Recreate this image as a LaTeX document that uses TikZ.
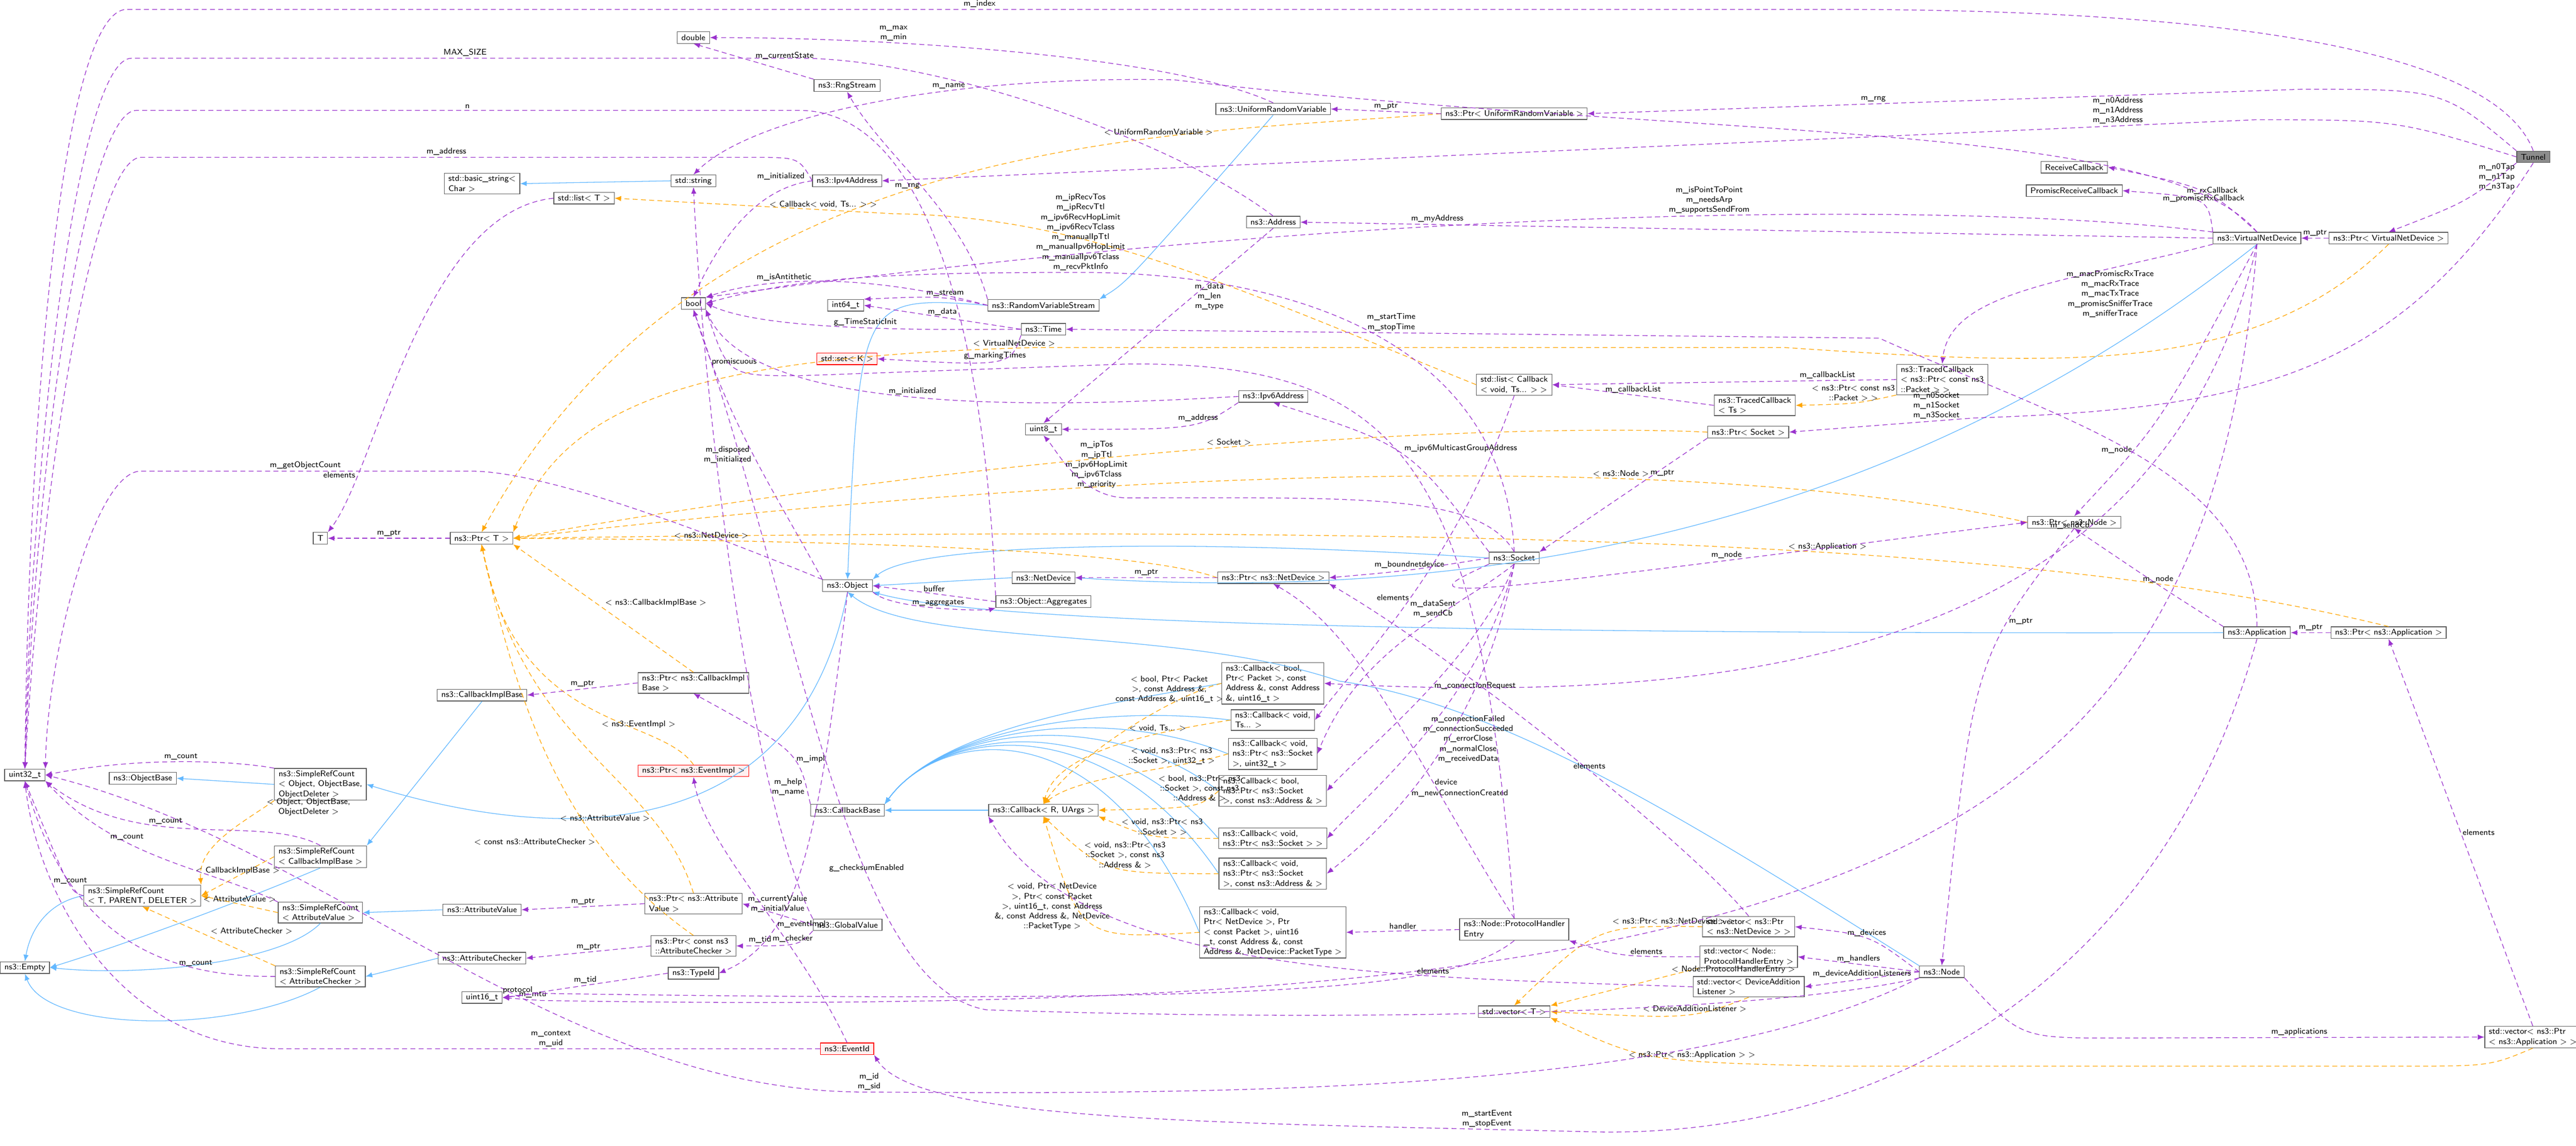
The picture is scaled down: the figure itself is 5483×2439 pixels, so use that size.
\documentclass[tikz,border=0pt]{standalone}
\usepackage{tikz}
\usetikzlibrary{arrows.meta}
\definecolor{usec}{HTML}{9A32CD}
\definecolor{tplc}{HTML}{FFA500}
\definecolor{inhc}{HTML}{63B8FF}
\tikzset{
    box/.style={draw=black!65, fill=white, font=\fontsize{5}{6}\selectfont\sffamily, align=left, inner xsep=2.5pt, inner ysep=1.3pt, minimum height=7pt},
    redbox/.style={box, draw=red, fill=red!6},
    grey/.style={box, fill=black!45},
    lbl/.style={font=\fontsize{5}{6}\selectfont\sffamily, align=center, inner sep=1pt},
    use/.style={draw=usec, dash pattern=on 3pt off 2pt, -{Latex[length=4pt,width=3.2pt]}},
    tpl/.style={draw=tplc, dash pattern=on 3pt off 2pt, -{Latex[length=4pt,width=3.2pt]}},
    inh/.style={draw=inhc, -{Latex[length=4pt,width=3.2pt]}},
}
\begin{document}
\begin{tikzpicture}[x=0.01cm,y=-0.01cm]
    \useasboundingbox (0,0) rectangle (5483,2439);

    % right side
    \node[grey] (tunnel) at (5392,334) {Tunnel};
    \node[box] (vnd) at (4804,507) {ns3::VirtualNetDevice};
    \node[box] (pvnd) at (5084,507) {ns3::Ptr< VirtualNetDevice >};
    \node[box] (recvcb) at (4415,356) {ReceiveCallback};
    \node[box] (promcb) at (4415,406) {PromiscReceiveCallback};
    \node[box] (tcbpkt) at (4134,808) {ns3::TracedCallback\\< ns3::Ptr< const ns3\\::Packet > >};
    \node[box] (pnode) at (4415,1112) {ns3::Ptr< ns3::Node >};
    \node[box] (app) at (4804,1347) {ns3::Application};
    \node[box] (papp) at (5084,1347) {ns3::Ptr< ns3::Application >};
    \node[box] (node) at (4133,2069) {ns3::Node};
    \node[box] (vecapp) at (5391,2208) {std::vector< ns3::Ptr\\< ns3::Application > >};

    % middle column
    \node[box] (urv) at (2710,232) {ns3::UniformRandomVariable};
    \node[box] (purv) at (3223,242) {ns3::Ptr< UniformRandomVariable >};
    \node[box] (addr) at (2710,473) {ns3::Address};
    \node[box] (rvs) at (2221,650) {ns3::RandomVariableStream};
    \node[box] (time) at (2221,701) {ns3::Time};
    \node[box] (ipv6) at (2710,844) {ns3::Ipv6Address};
    \node[box] (u8) at (2221,914) {uint8\_t};
    \node[box] (lstcb) at (3223,819) {std::list< Callback\\< void, Ts... > >};
    \node[box] (tcbts) at (3735,863) {ns3::TracedCallback\\< Ts >};
    \node[box] (psock) at (3721,920) {ns3::Ptr< Socket >};
    \node[box] (sock) at (3223,1188) {ns3::Socket};
    \node[box] (netdev) at (2221,1230) {ns3::NetDevice};
    \node[box] (pnetdev) at (2710,1230) {ns3::Ptr< ns3::NetDevice >};
    \node[box] (aggr) at (2221,1281) {ns3::Object::Aggregates};
    \node[box] (cbr) at (2221,1725) {ns3::Callback< R, UArgs >};
    \node[box] (cba) at (2709,1455) {ns3::Callback< bool,\\Ptr< Packet >, const\\Address \&, const Address\\\&, uint16\_t >};
    \node[box] (cbb) at (2709,1533) {ns3::Callback< void,\\Ts... >};
    \node[box] (cbc) at (2709,1605) {ns3::Callback< void,\\ns3::Ptr< ns3::Socket\\>, uint32\_t >};
    \node[box] (cbd) at (2709,1684) {ns3::Callback< bool,\\ns3::Ptr< ns3::Socket\\>, const ns3::Address \& >};
    \node[box] (cbe) at (2709,1785) {ns3::Callback< void,\\ns3::Ptr< ns3::Socket > >};
    \node[box] (cbf) at (2709,1860) {ns3::Callback< void,\\ns3::Ptr< ns3::Socket\\>, const ns3::Address \& >};
    \node[box] (cbg) at (2709,1985) {ns3::Callback< void,\\Ptr< NetDevice >, Ptr\\< const Packet >, uint16\\\_t, const Address \&, const\\Address \&, NetDevice::PacketType >};
    \node[box] (phe) at (3223,1979) {ns3::Node::ProtocolHandler\\Entry};
    \node[box] (vect) at (3223,2154) {std::vector< T >};
    \node[box] (vecnd) at (3722,1973) {std::vector< ns3::Ptr\\< ns3::NetDevice > >};
    \node[box] (vecphe) at (3722,2037) {std::vector< Node::\\ProtocolHandlerEntry >};
    \node[box] (vecdal) at (3722,2101) {std::vector< DeviceAddition\\Listener >};

    % left part
    \node[box] (dbl) at (1476,80) {double};
    \node[box] (rng) at (1803,182) {ns3::RngStream};
    \node[box] (bstr) at (1026,391) {std::basic\_string<\\Char >};
    \node[box] (str) at (1476,385) {std::string};
    \node[box] (ipv4) at (1803,385) {ns3::Ipv4Address};
    \node[box] (lst) at (1243,422) {std::list< T >};
    \node[box] (boolt) at (1476,646) {bool};
    \node[box] (i64) at (1800,650) {int64\_t};
    \node[redbox] (setk) at (1803,764) {std::set< K >};
    \node[box] (tt) at (682,1146) {T};
    \node[box] (ptrt) at (1025,1146) {ns3::Ptr< T >};
    \node[box] (obj) at (1804,1247) {ns3::Object};
    \node[box] (cbimpl) at (1026,1480) {ns3::CallbackImplBase};
    \node[box] (pcbimpl) at (1476,1454) {ns3::Ptr< ns3::CallbackImpl\\Base >};
    \node[redbox] (pevimpl) at (1476,1641) {ns3::Ptr< ns3::EventImpl >};
    \node[box] (u32) at (53,1650) {uint32\_t};
    \node[box] (objbase) at (304,1657) {ns3::ObjectBase};
    \node[box] (srcobj) at (682,1670) {ns3::SimpleRefCount\\< Object, ObjectBase,\\ObjectDeleter >};
    \node[box] (cbbase) at (1804,1725) {ns3::CallbackBase};
    \node[box] (srccb) at (682,1824) {ns3::SimpleRefCount\\< CallbackImplBase >};
    \node[box] (srctpd) at (303,1907) {ns3::SimpleRefCount\\< T, PARENT, DELETER >};
    \node[box] (pattrval) at (1476,1924) {ns3::Ptr< ns3::Attribute\\Value >};
    \node[box] (attrval) at (1026,1937) {ns3::AttributeValue};
    \node[box] (srcav) at (682,1943) {ns3::SimpleRefCount\\< AttributeValue >};
    \node[box] (gval) at (1804,1969) {ns3::GlobalValue};
    \node[box] (pattrchk) at (1476,2014) {ns3::Ptr< const ns3\\::AttributeChecker >};
    \node[box] (attrchk) at (1026,2040) {ns3::AttributeChecker};
    \node[box] (empty) at (53,2060) {ns3::Empty};
    \node[box] (typeid) at (1476,2072) {ns3::TypeId};
    \node[box] (srcac) at (682,2079) {ns3::SimpleRefCount\\< AttributeChecker >};
    \node[box] (u16) at (1026,2124) {uint16\_t};
    \node[redbox] (evid) at (1803,2233) {ns3::EventId};

    % inheritance
    \draw[inh] (srcobj.west) -- (objbase.east);
    \draw[inh] (obj.south) .. controls (1700,1800) and (1200,1800) .. (srcobj.east);
    \draw[inh] (srctpd.west) to[out=190,in=80] (empty.north);
    \draw[inh] (srccb.south) .. controls (560,1900) and (300,2000) .. (empty.east);
    \draw[inh] (srcav.south) .. controls (600,2050) and (300,2080) .. (empty.east);
    \draw[inh] (srcac.south) .. controls (500,2200) and (100,2200) .. (empty.south);
    \draw[inh] (cbimpl.south) -- (srccb.north east);
    \draw[inh] (attrval.west) -- (srcav.east);
    \draw[inh] (attrchk.west) -- (srcac.east);
    \draw[inh] (str.west) -- (bstr.east);
    \draw[inh] (urv.south) .. controls (2400,600) .. (rvs.north east);
    \draw[inh] (rvs.west) .. controls (1830,630) .. (obj.north);
    \draw[inh] (netdev.west) -- (obj.east);
    \draw[inh] (sock.west) .. controls (2600,1150) and (1950,1150) .. (obj.north east);
    \draw[inh] (vnd.south) .. controls (4200,1000) and (3400,1300) .. (netdev.east);
    \draw[inh] (app.west) .. controls (3200,1350) and (2100,1330) .. (obj.south east);
    \draw[inh] (node.north west) .. controls (3600,1750) and (3200,1500) .. (2850,1450)
        .. controls (2500,1330) and (1950,1380) .. (obj.south);
    \foreach \c in {cba,cbb,cbc,cbd,cbe,cbf,cbg}
        \draw[inh] (\c.west) .. controls (2350,1500) and (2000,1550) .. (cbbase.north east);
    \draw[inh] (cbr.west) -- (cbbase.east);

    % template instances
    \draw[tpl] (purv.west) .. controls (2500,290) and (1500,270) .. (ptrt.north) node[lbl,pos=0.3,above]{< UniformRandomVariable >};
    \draw[tpl] (pcbimpl.north) -- (ptrt.south east) node[lbl,midway,above right]{< ns3::CallbackImplBase >};
    \draw[tpl] (pevimpl.north) .. controls (1400,1520) and (1100,1560) .. (ptrt.south) node[lbl,pos=0.3,above]{< ns3::EventImpl >};
    \draw[tpl] (pattrval.north) .. controls (1400,1650) and (1120,1600) .. (ptrt.south) node[lbl,pos=0.25,left]{< ns3::AttributeValue >};
    \draw[tpl] (pattrchk.north) .. controls (1200,1800) and (1100,1500) .. (ptrt.south) node[lbl,pos=0.3,left]{< const ns3::AttributeChecker >};
    \draw[tpl] (pvnd.south) .. controls (4800,800) and (4400,780) .. (3800,740) -- (2200,740) .. controls (1500,760) and (1200,850) .. (ptrt.north east) node[lbl,pos=0.02,above]{< VirtualNetDevice >};
    \draw[tpl] (psock.west) .. controls (3200,900) and (2200,950) .. (ptrt.east) node[lbl,pos=0.5,above]{< Socket >};
    \draw[tpl] (pnode.west) .. controls (3800,1000) and (2800,950) .. (ptrt.east) node[lbl,pos=0.4,above]{< ns3::Node >};
    \draw[tpl] (papp.north) .. controls (4300,1140) and (3000,1120) .. (ptrt.east) node[lbl,pos=0.4,above]{< ns3::Application >};
    \draw[tpl] (pnetdev.west) .. controls (2400,1160) and (1600,1150) .. (ptrt.east) node[lbl,pos=0.75,above]{< ns3::NetDevice >};
    \draw[tpl] (srcobj.south west) .. controls (520,1750) and (420,1800) .. (srctpd.north east) node[lbl,pos=0.1,right]{< Object, ObjectBase,\\ObjectDeleter >};
    \draw[tpl] (srccb.west) -- (srctpd.east) node[lbl,midway,above]{< CallbackImplBase >};
    \draw[tpl] (srcav.west) -- (srctpd.east) node[lbl,midway,above]{< AttributeValue >};
    \draw[tpl] (srcac.north west) -- (srctpd.south) node[lbl,midway,above right]{< AttributeChecker >};
    \draw[tpl] (lstcb.west) .. controls (2600,600) and (2300,460) .. (1900,455) -- (lst.east) node[lbl,pos=0.25,above]{< Callback< void, Ts... > >};
    \draw[tpl] (tcbpkt.south west) .. controls (3950,860) .. (tcbts.east) node[lbl,midway,above]{< ns3::Ptr< const ns3\\::Packet > >};
    \draw[tpl] (cba.west) .. controls (2500,1480) and (2300,1600) .. (cbr.north) node[lbl,pos=0.3,above]{< bool, Ptr< Packet\\>, const Address \&,\\const Address \&, uint16\_t >};
    \draw[tpl] (cbb.west) .. controls (2450,1560) and (2250,1600) .. (cbr.north) node[lbl,pos=0.3,above]{< void, Ts... >};
    \draw[tpl] (cbc.west) .. controls (2500,1640) and (2300,1650) .. (cbr.north) node[lbl,pos=0.3,above]{< void, ns3::Ptr< ns3\\::Socket >, uint32\_t >};
    \draw[tpl] (cbd.west) .. controls (2550,1720) .. (cbr.east) node[lbl,pos=0.35,above]{< bool, ns3::Ptr< ns3\\::Socket >, const ns3\\::Address \& >};
    \draw[tpl] (cbe.west) .. controls (2450,1785) .. (cbr.south east) node[lbl,pos=0.4,above]{< void, ns3::Ptr< ns3\\::Socket > >};
    \draw[tpl] (cbf.west) .. controls (2350,1860) .. (cbr.south) node[lbl,pos=0.4,above]{< void, ns3::Ptr< ns3\\::Socket >, const ns3\\::Address \& >};
    \draw[tpl] (cbg.west) .. controls (2300,2000) .. (cbr.south) node[lbl,pos=0.35,above left]{< void, Ptr< NetDevice\\>, Ptr< const Packet\\>, uint16\_t, const Address\\\&, const Address \&, NetDevice\\::PacketType >};
    \draw[tpl] (vecnd.west) .. controls (3400,1970) .. (vect.north) node[lbl,pos=0.1,above]{< ns3::Ptr< ns3::NetDevice > >};
    \draw[tpl] (vecphe.south west) -- (vect.north east) node[lbl,pos=0.2,above right]{< Node::ProtocolHandlerEntry >};
    \draw[tpl] (vecdal.south) .. controls (3600,2170) .. (vect.east) node[lbl,pos=0.4,above]{< DeviceAdditionListener >};
    \draw[tpl] (vecapp.south) .. controls (5300,2270) .. (5100,2270) -- (3900,2270) .. controls (3500,2260) .. (vect.south east) node[lbl,pos=0.35,above]{< ns3::Ptr< ns3::Application > >};

    % usage: long routes to uint32_t
    \draw[use] (tunnel.north) .. controls (5300,80) and (4600,20) .. (3900,20) -- node[lbl,above]{m\_index} (270,20) .. controls (130,20) and (60,900) .. (u32.north);
    \draw[use] (addr.north) .. controls (2500,300) and (2000,124) .. (1700,124) -- node[lbl,above]{MAX\_SIZE} (280,124) .. controls (170,124) and (70,900) .. (u32.north);
    \draw[use] (aggr.north west) .. controls (2100,800) and (2000,235) .. (1700,235) -- node[lbl,above]{n} (290,235) .. controls (190,235) and (80,900) .. (u32.north);
    \draw[use] (ipv4.west) .. controls (1700,335) .. (1600,335) -- node[lbl,above]{m\_address} (300,335) .. controls (200,335) and (90,1000) .. (u32.north);
    \draw[use] (obj.north west) .. controls (1300,1050) and (1100,1003) .. (1000,1003) -- node[lbl,above]{m\_getObjectCount} (300,1003) .. controls (200,1003) and (100,1400) .. (u32.north east);
    \draw[use] (evid.west) -- node[lbl,above]{m\_context\\m\_uid} (600,2233) .. controls (250,2233) and (80,1900) .. (u32.south);
    \draw[use] (node.south west) .. controls (3600,2330) and (2600,2330) .. (1850,2325) node[lbl,above,pos=1]{m\_id\\m\_sid} .. controls (1200,2330) and (700,1800) .. (u32.east);
    \draw[use] (srcobj.north west) .. controls (500,1620) and (300,1610) .. (u32.east) node[lbl,pos=0.5,above]{m\_count};
    \draw[use] (srccb.north) .. controls (550,1730) and (300,1820) .. (u32.south east) node[lbl,pos=0.6,above]{m\_count};
    \draw[use] (srcav.north west) .. controls (450,1850) and (250,1830) .. (u32.south east) node[lbl,pos=0.65,above]{m\_count};
    \draw[use] (srctpd.west) .. controls (150,1900) .. (u32.south) node[lbl,pos=0.4,above]{m\_count};
    \draw[use] (srcac.west) .. controls (350,2080) and (150,2000) .. (u32.south) node[lbl,pos=0.25,above]{m\_count};

    % usage: Tunnel
    \draw[use] (tunnel.north west) .. controls (5200,190) .. (4900,190) -- (purv.east) node[lbl,pos=0.6,above]{m\_rng};
    \draw[use] (tunnel.west) .. controls (5100,255) .. (4800,255) -- (ipv4.east) node[lbl,pos=0.1,above]{m\_n0Address\\m\_n1Address\\m\_n3Address};
    \draw[use] (tunnel.south west) .. controls (5250,430) .. (pvnd.north) node[lbl,pos=0.35,above right]{m\_n0Tap\\m\_n1Tap\\m\_n3Tap};
    \draw[use] (tunnel.south) .. controls (5100,800) and (4800,870) .. (4200,890) -- (psock.east) node[lbl,pos=0.2,above]{m\_n0Socket\\m\_n1Socket\\m\_n3Socket};

    % usage: VirtualNetDevice
    \draw[use] (pvnd.west) -- (vnd.east) node[lbl,midway,above]{m\_ptr};
    \draw[use] (vnd.north) .. controls (4700,400) .. (recvcb.east) node[lbl,pos=0.4,above]{m\_rxCallback};
    \draw[use] (vnd.north west) .. controls (4700,420) .. (promcb.east) node[lbl,pos=0.4,above]{m\_promiscRxCallback};
    \draw[use] (vnd.west) -- (addr.east) node[lbl,pos=0.85,above]{m\_myAddress};
    \draw[use] (vnd.north west) .. controls (4200,430) and (3000,430) .. (boolt.north east) node[lbl,pos=0.45,above]{m\_isPointToPoint\\m\_needsArp\\m\_supportsSendFrom};
    \draw[use] (vnd.north) .. controls (4600,250) and (3600,300) .. (2500,170) .. controls (2000,160) and (1600,250) .. (str.north) node[lbl,pos=0.35,above]{m\_name};
    \draw[use] (vnd.south west) .. controls (4400,600) and (4150,620) .. (tcbpkt.north) node[lbl,pos=0.25,below]{m\_macPromiscRxTrace\\m\_macRxTrace\\m\_macTxTrace\\m\_promiscSnifferTrace\\m\_snifferTrace};
    \draw[use] (vnd.south) .. controls (4600,900) .. (pnode.north) node[lbl,pos=0.7,left]{m\_node};
    \draw[use] (vnd.south) .. controls (4600,1400) and (3700,1500) .. (cba.east) node[lbl,pos=0.3,left]{m\_sendCb};
    \draw[use] (vnd.south) .. controls (4700,1800) and (4000,2180) .. (1150,2130) -- (u16.east) node[lbl,pos=0.2,above]{m\_mtu};

    % usage: Application and Node
    \draw[use] (papp.west) -- (app.east) node[lbl,midway,above]{m\_ptr};
    \draw[use] (app.north) .. controls (4800,1000) and (4400,900) .. (4000,720) -- (time.east) node[lbl,pos=0.6,above]{m\_startTime\\m\_stopTime};
    \draw[use] (app.north west) .. controls (4600,1250) .. (pnode.south) node[lbl,pos=0.5,above]{m\_node};
    \draw[use] (app.south) .. controls (4600,2100) and (4000,2420) .. (3400,2410) .. controls (2600,2390) and (1950,2390) .. (evid.south east) node[lbl,pos=0.1,above]{m\_startEvent\\m\_stopEvent};
    \draw[use] (pnode.south) .. controls (4200,1400) .. (node.north) node[lbl,pos=0.3,right]{m\_ptr};
    \draw[use] (node.west) .. controls (3980,1990) .. (vecnd.east) node[lbl,midway,above]{m\_devices};
    \draw[use] (node.west) -- (vecphe.east) node[lbl,midway,above]{m\_handlers};
    \draw[use] (node.west) -- (vecdal.east) node[lbl,midway,above]{m\_deviceAdditionListeners};
    \draw[use] (node.south east) .. controls (4300,2210) .. (4500,2210) -- (vecapp.west) node[lbl,midway,above]{m\_applications};
    \draw[use] (vecapp.north) -- (papp.south) node[lbl,midway,right]{elements};
    \draw[use] (node.south west) .. controls (3800,2150) and (3000,2180) .. (2100,2150) .. controls (1800,2100) and (1700,1300) .. (boolt.south) node[lbl,pos=0.35,above]{g\_checksumEnabled};

    % usage: Socket
    \draw[use] (psock.south west) -- (sock.north east) node[lbl,pos=0.35,above right]{m\_ptr};
    \draw[use] (sock.north) .. controls (3150,1050) and (2900,1060) .. (2400,1060) .. controls (2300,1060) and (2250,960) .. (u8.south) node[lbl,pos=0.25,above]{m\_ipTos\\m\_ipTtl\\m\_ipv6HopLimit\\m\_ipv6Tclass\\m\_priority};
    \draw[use] (sock.north west) .. controls (3000,950) .. (ipv6.south) node[lbl,pos=0.5,above right]{m\_ipv6MulticastGroupAddress};
    \draw[use] (sock.north) .. controls (3200,700) and (2700,580) .. (2300,580) node[lbl,above]{m\_ipRecvTos\\m\_ipRecvTtl\\m\_ipv6RecvHopLimit\\m\_ipv6RecvTclass\\m\_manualIpTtl\\m\_manualIpv6HopLimit\\m\_manualIpv6Tclass\\m\_recvPktInfo} .. controls (1900,580) and (1700,590) .. (boolt.east);
    \draw[use] (sock.west) .. controls (3000,1215) .. (pnetdev.east) node[lbl,midway,above]{m\_boundnetdevice};
    \draw[use] (sock.south) .. controls (3100,1300) and (2900,1370) .. (cbc.east) node[lbl,pos=0.4,above]{m\_dataSent\\m\_sendCb};
    \draw[use] (sock.south) .. controls (3150,1400) and (2900,1600) .. (cbd.east) node[lbl,pos=0.45,right]{m\_connectionRequest};
    \draw[use] (sock.south) .. controls (3150,1500) and (2900,1700) .. (cbe.east) node[lbl,pos=0.5,right]{m\_connectionFailed\\m\_connectionSucceeded\\m\_errorClose\\m\_normalClose\\m\_receivedData};
    \draw[use] (sock.south) .. controls (3150,1600) and (2900,1800) .. (cbf.east) node[lbl,pos=0.55,right]{m\_newConnectionCreated};
    \draw[use] (sock.south west) .. controls (3000,1280) .. (pnode.west) node[lbl,pos=0.8,above]{m\_node};

    % usage: callbacks, lists, entries
    \draw[use] (pnetdev.west) -- (netdev.east) node[lbl,midway,above]{m\_ptr};
    \draw[use] (lstcb.south) .. controls (3100,1200) and (2900,1400) .. (cbb.east) node[lbl,pos=0.5,left]{elements};
    \draw[use] (tcbts.west) -- (lstcb.east) node[lbl,midway,above]{m\_callbackList};
    \draw[use] (tcbpkt.west) -- (lstcb.east) node[lbl,pos=0.2,above]{m\_callbackList};
    \draw[use] (phe.west) -- (cbg.east) node[lbl,midway,above]{handler};
    \draw[use] (phe.north) .. controls (3000,1600) and (2900,1350) .. (pnetdev.south) node[lbl,pos=0.3,right]{device};
    \draw[use] (phe.north) .. controls (3150,1000) and (3000,770) .. (2400,775) -- (1700,800) .. controls (1550,800) .. (boolt.south east) node[lbl,pos=0.5,above]{promiscuous};
    \draw[use] (phe.south) .. controls (3100,2100) and (2800,2140) .. (1150,2115) -- (u16.east) node[lbl,pos=0.6,above]{protocol};
    \draw[use] (vecnd.north) .. controls (3600,1800) and (3100,1400) .. (pnetdev.south east) node[lbl,pos=0.45,above]{elements};
    \draw[use] (vecphe.west) .. controls (3450,2037) .. (phe.south east) node[lbl,pos=0.3,above]{elements};
    \draw[use] (vecdal.west) .. controls (3000,2080) and (2300,2080) .. (cbr.south west) node[lbl,pos=0.3,above]{elements};

    % usage: random variables, time, addresses
    \draw[use] (purv.west) -- (urv.east) node[lbl,midway,above]{m\_ptr};
    \draw[use] (urv.north) .. controls (2500,120) and (1900,80) .. (dbl.east) node[lbl,pos=0.7,above]{m\_max\\m\_min};
    \draw[use] (rng.north west) -- (dbl.south) node[lbl,midway,above right]{m\_currentState};
    \draw[use] (rvs.north west) .. controls (2050,450) and (1880,330) .. (rng.south) node[lbl,pos=0.5,left]{m\_rng};
    \draw[use] (rvs.west) .. controls (2000,630) .. (i64.north east) node[lbl,pos=0.4,above]{m\_stream};
    \draw[use] (rvs.west) .. controls (1800,570) and (1600,600) .. (boolt.north east) node[lbl,pos=0.6,above]{m\_isAntithetic};
    \draw[use] (time.west) -- (i64.east) node[lbl,midway,above]{m\_data};
    \draw[use] (time.west) .. controls (1800,705) and (1600,690) .. (boolt.east) node[lbl,pos=0.35,above]{g\_TimeStaticInit};
    \draw[use] (time.south west) .. controls (2150,780) .. (setk.east) node[lbl,pos=0.5,above]{g\_markingTimes};
    \draw[use] (addr.south) -- (u8.north) node[lbl,pos=0.35,right]{m\_data\\m\_len\\m\_type};
    \draw[use] (ipv6.south west) .. controls (2550,914) .. (u8.east) node[lbl,pos=0.4,above]{m\_address};
    \draw[use] (ipv6.west) .. controls (2200,870) and (1600,880) .. (boolt.south east) node[lbl,pos=0.5,above]{m\_initialized};
    \draw[use] (ipv4.west) .. controls (1650,395) and (1560,450) .. (boolt.north) node[lbl,pos=0.05,above left]{m\_initialized};

    % usage: Object and attribute classes
    \draw[use] (ptrt.west) -- (tt.east) node[lbl,midway,above]{m\_ptr};
    \draw[use] (lst.west) .. controls (900,450) and (800,1000) .. (tt.north east) node[lbl,pos=0.8,left]{elements};
    \draw[use] (obj.north west) .. controls (1650,1050) and (1550,900) .. (boolt.south) node[lbl,pos=0.5,left]{m\_disposed\\m\_initialized};
    \draw[use] (aggr.west) -- (obj.east) node[lbl,midway,above]{buffer};
    \draw[use] (obj.south east) .. controls (1900,1300) and (2100,1300) .. (aggr.south west) node[lbl,pos=0.5,above]{m\_aggregates};
    \draw[use] (obj.south) .. controls (1740,1800) and (1700,2000) .. (typeid.east) node[lbl,pos=0.8,above]{m\_tid};
    \draw[use] (typeid.west) -- (u16.east) node[lbl,midway,above]{m\_tid};
    \draw[use] (pcbimpl.west) -- (cbimpl.east) node[lbl,midway,above]{m\_ptr};
    \draw[use] (pattrval.west) -- (attrval.east) node[lbl,midway,above]{m\_ptr};
    \draw[use] (pattrchk.west) -- (attrchk.east) node[lbl,midway,above]{m\_ptr};
    \draw[use] (cbbase.north west) .. controls (1700,1600) .. (pcbimpl.south) node[lbl,pos=0.4,right]{m\_impl};
    \draw[use] (gval.north west) .. controls (1600,1700) and (1500,900) .. (str.south) node[lbl,pos=0.25,right]{m\_help\\m\_name};
    \draw[use] (gval.west) -- (pattrval.east) node[lbl,midway,above]{m\_currentValue\\m\_initialValue};
    \draw[use] (gval.south west) .. controls (1700,2014) .. (pattrchk.east) node[lbl,midway,above]{m\_checker};
    \draw[use] (evid.north) .. controls (1700,2000) and (1500,1800) .. (pevimpl.south) node[lbl,pos=0.4,right]{m\_eventImpl};
\end{tikzpicture}
\end{document}
